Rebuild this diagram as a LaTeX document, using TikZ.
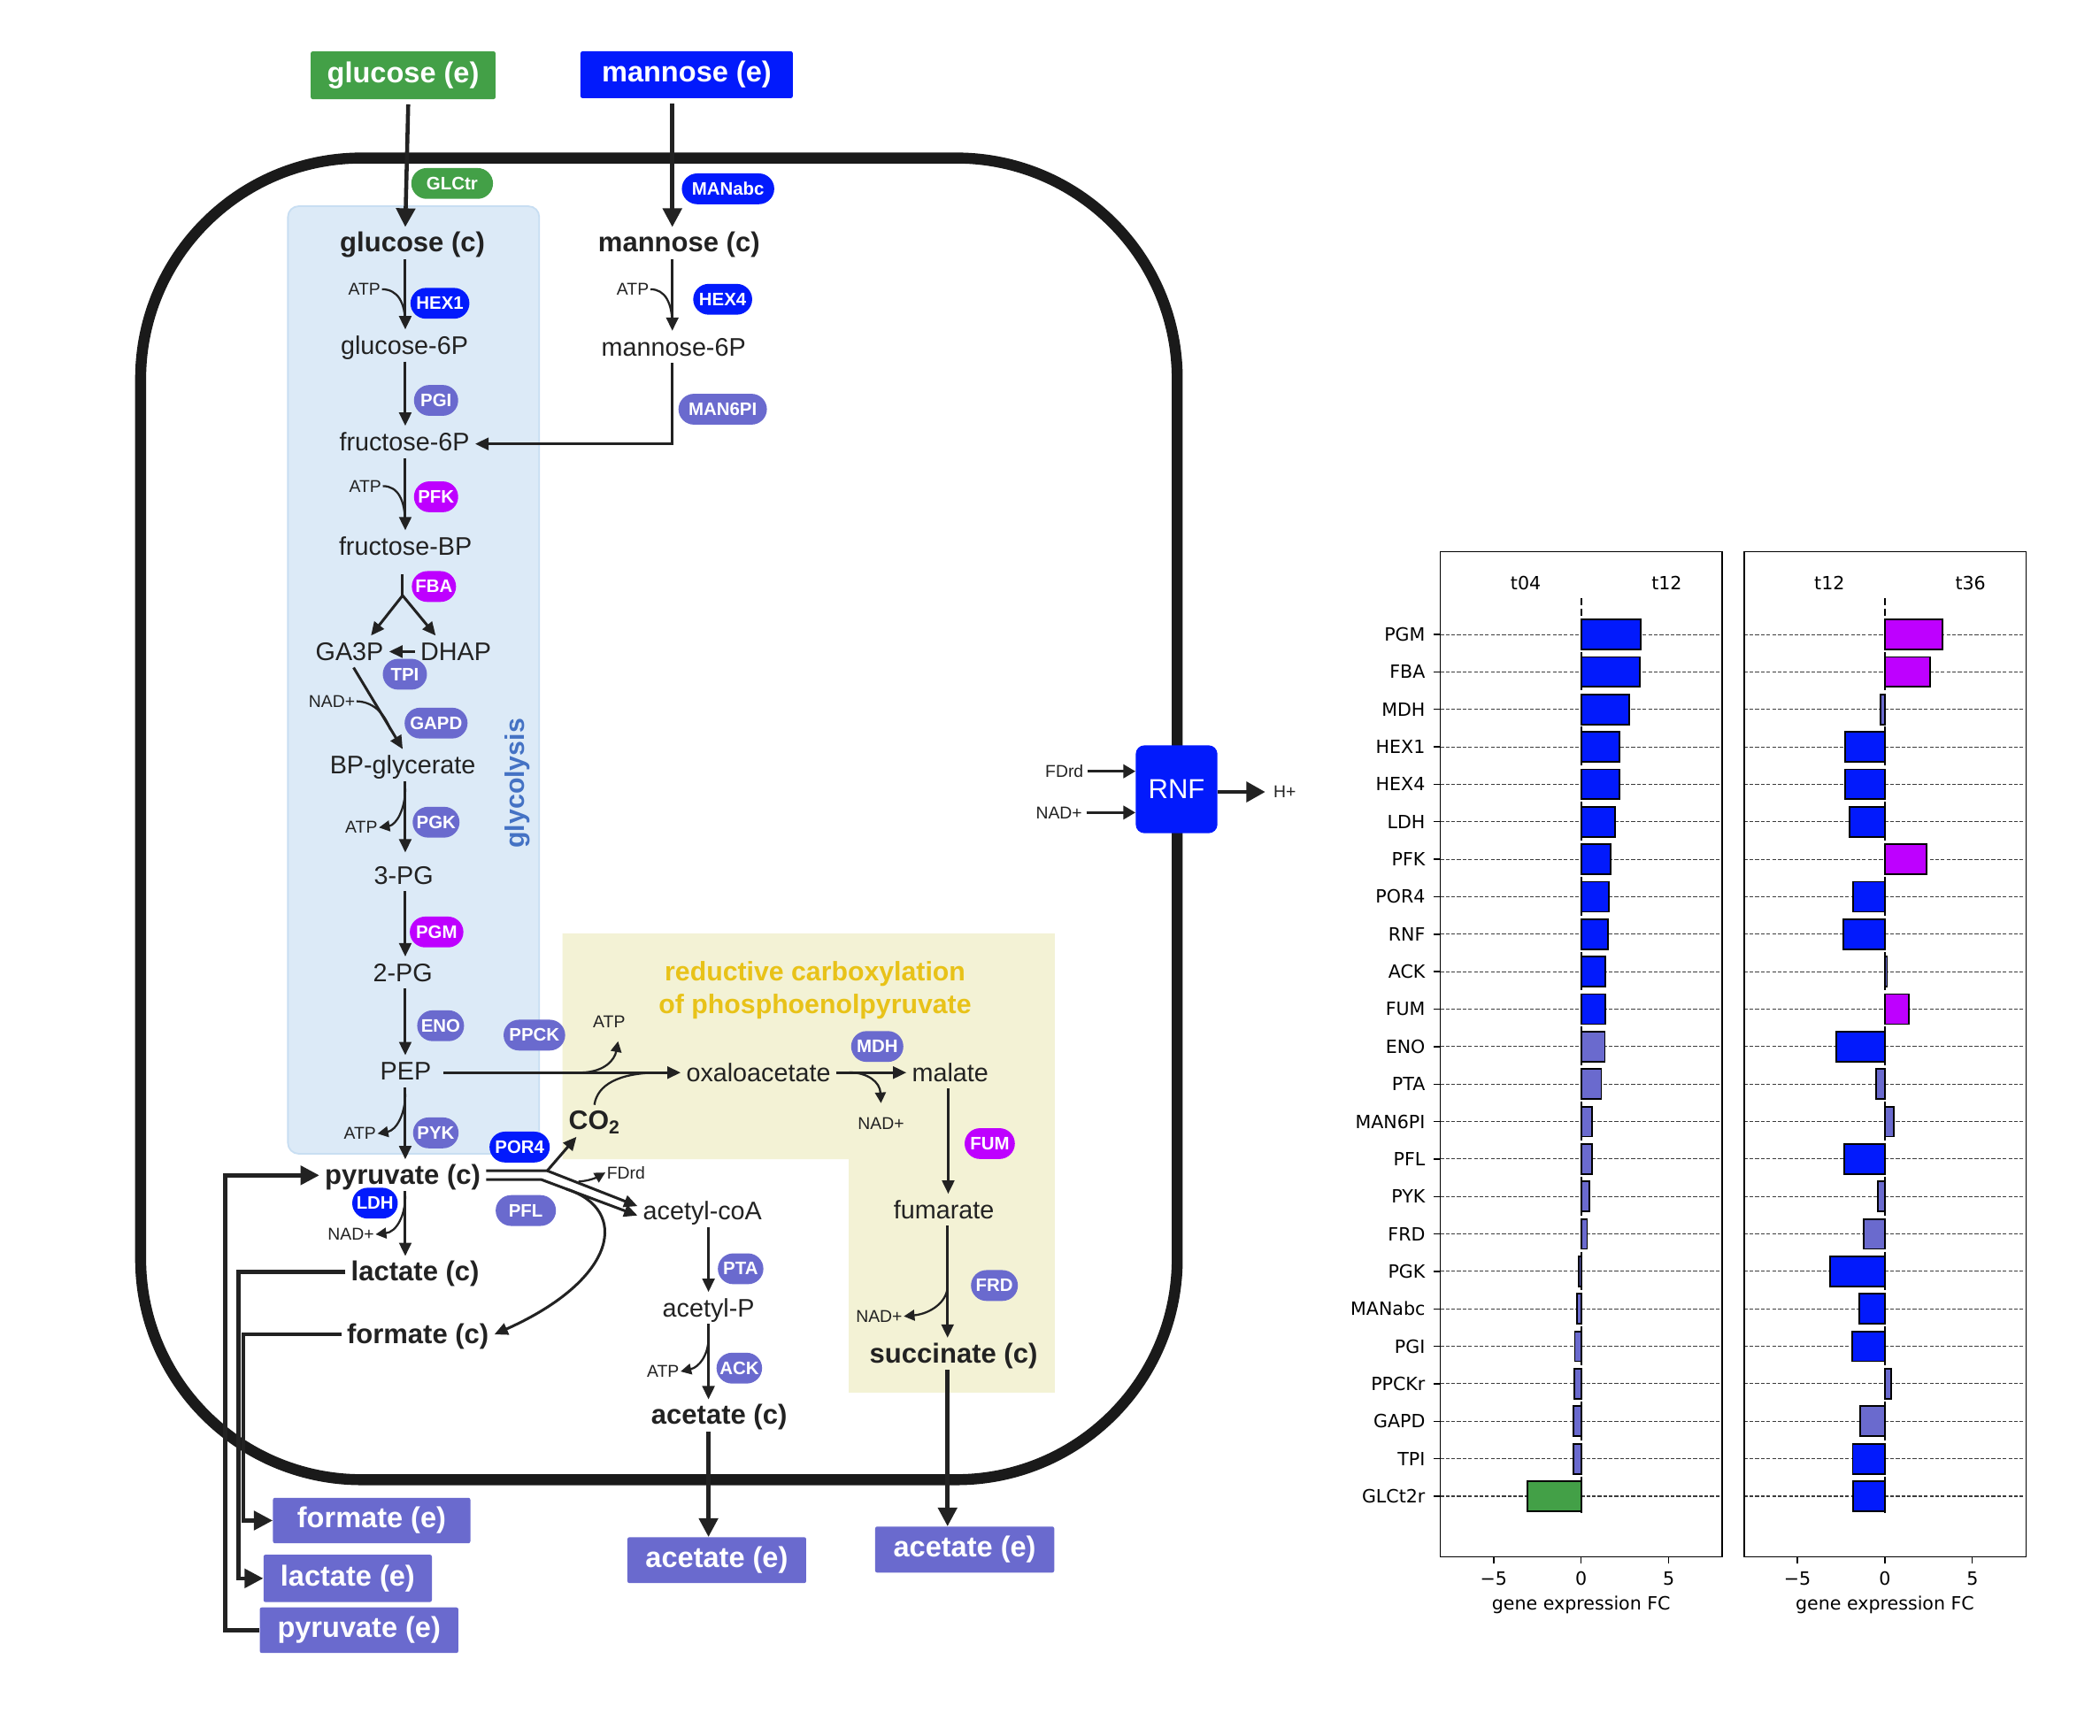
\documentclass[tikz,border=0pt]{standalone}
\usepackage{fontspec}
\setmainfont{Liberation Sans}
\newfontfamily\chartfont{DejaVu Sans}
\usetikzlibrary{arrows.meta,calc}

\definecolor{ink}{RGB}{34,34,34}
\definecolor{membr}{RGB}{26,26,26}
\definecolor{cB}{RGB}{2,26,252}
\definecolor{cS}{RGB}{106,106,206}
\definecolor{cP}{RGB}{190,0,255}
\definecolor{cG}{RGB}{67,160,71}
\definecolor{glyfill}{RGB}{220,234,247}
\definecolor{glyedge}{RGB}{200,222,242}
\definecolor{yelfill}{RGB}{243,242,213}
\definecolor{yeltext}{RGB}{232,194,24}
\definecolor{glytext}{RGB}{68,114,196}
\definecolor{gridc}{RGB}{60,60,60}

\tikzset{
 met/.style={font=\fontsize{19}{22}\selectfont, text=ink, inner xsep=4pt, inner ysep=3pt, text height=15.5pt, text depth=2pt},
 metb/.style={met, font=\fontsize{20.5}{24}\selectfont\bfseries},
 cof/.style={font=\fontsize{12.8}{15}\selectfont, text=ink, inner sep=1pt},
 pill/.style={rectangle, rounded corners=11.5pt, minimum height=23pt, inner sep=0pt, text=white, font=\fontsize{13.5}{15}\selectfont\bfseries},
 extb/.style={rectangle, rounded corners=1.5pt, inner sep=0pt, text=white, font=\fontsize{21.5}{24}\selectfont\bfseries},
 ai/.style={draw=ink, line width=2pt, -{Triangle[length=10pt,width=9pt]}},
 ae/.style={draw=ink, line width=3pt, -{Triangle[length=14pt,width=14pt]}},
 ac/.style={draw=ink, line width=1.5pt, -{Triangle[length=8pt,width=8pt]}},
 cl/.style={draw=ink, line width=1.5pt},
 chart/.style={font=\chartfont\fontsize{13.6}{16}\selectfont, text=black, inner sep=0pt},
 gridl/.style={draw=gridc, line width=0.7pt, dash pattern=on 2.8pt off 1.4pt},
 barb/.style={draw=black, line width=1.2pt},
}

\begin{document}
\begin{tikzpicture}[x=1pt,y=-1pt]
\useasboundingbox (0,0) rectangle (1568,1296);
\fill[white] (0,0) rectangle (1568,1296);

% regions
\filldraw[fill=glyfill, draw=glyedge, line width=1.2pt, rounded corners=8pt] (215,154) rectangle (402.6,861.6);
\fill[yelfill] (420,697) -- (787.6,697) -- (787.6,1040) -- (633.7,1040) -- (633.7,865.6) -- (420,865.6) -- cycle;
\node[font=\fontsize{20}{24}\selectfont\bfseries, text=yeltext] (ttla) at (608.6,727.2) {reductive carboxylation};
\node[font=\fontsize{20}{24}\selectfont\bfseries, text=yeltext] (ttlb) at (608.6,751.7) {of phosphoenolpyruvate};
\node[font=\fontsize{20}{24}\selectfont\bfseries, text=glytext, rotate=90] (gly) at (386.5,585) {glycolysis};

% membrane
\draw[draw=membr, line width=8.2pt, rounded corners=165pt] (105,118) rectangle (879,1105);

% metabolites
\node[extb, fill=cG, minimum width=138pt, minimum height=35.7pt] (glce) at (301,56.2) {glucose (e)};
\node[extb, fill=cB, minimum width=158.5pt, minimum height=35pt] (mane) at (512.7,55.8) {mannose (e)};
\node[metb] (glcc) at (308,181.5) {glucose (c)};
\node[metb] (manc) at (507,181.5) {mannose (c)};
\node[met] (g6p) at (302,258) {glucose-6P};
\node[met] (m6p) at (503,259) {mannose-6P};
\node[met] (f6p) at (302,330) {fructose-6P};
\node[met] (fbp) at (302.7,408) {fructose-BP};
\node[met] (ga3p) at (261,486.6) {GA3P};
\node[met] (dhap) at (340.3,486.6) {DHAP};
\node[met] (bpg) at (300.7,571.4) {BP-glycerate};
\node[met] (pg3) at (301.4,653.6) {3-PG};
\node[met] (pg2) at (300.7,726.3) {2-PG};
\node[met] (pep) at (302.9,800) {PEP};
\node[metb] (pyrc) at (300.7,877.7) {pyruvate (c)};
\node[metb] (lacc) at (310,950) {lactate (c)};
\node[metb] (forc) at (312,996.5) {formate (c)};
\node[met] (oaa) at (566.3,801) {oxaloacetate};
\node[met] (mal) at (709.5,801) {malate};
\node[met] (fum) at (704.8,903.5) {fumarate};
\node[metb] (succ) at (712,1011) {succinate (c)};
\node[met] (accoa) at (524.5,904.2) {acetyl-coA};
\node[met] (acp) at (529,976.8) {acetyl-P};
\node[metb] (acc) at (537,1057) {acetate (c)};
\node[metb, font=\fontsize{20}{24}\selectfont\bfseries] (co2) at (443.8,837) {CO\textsubscript{2}};

\node[extb, fill=cS, minimum width=147.4pt, minimum height=34pt] (fore) at (277.5,1135.5) {formate (e)};
\node[extb, fill=cS, minimum width=125.7pt, minimum height=35.4pt] (lace) at (259.6,1178.7) {lactate (e)};
\node[extb, fill=cS, minimum width=148.3pt, minimum height=34pt] (pyre) at (268.1,1217.4) {pyruvate (e)};
\node[extb, fill=cS, minimum width=133.5pt, minimum height=34.3pt] (ace1) at (535.2,1165.1) {acetate (e)};
\node[extb, fill=cS, minimum width=133.7pt, minimum height=34.4pt] (ace2) at (720.3,1157.2) {acetate (e)};

% RNF
\node[rectangle, rounded corners=6.5pt, fill=cB, minimum width=61pt, minimum height=65.6pt, text=white, font=\fontsize{20.5}{24}\selectfont] (rnf) at (878.5,589.4) {RNF};
\node[cof] (fdrdr) at (794.7,576) {FDrd};
\node[cof] (nadr) at (790.7,606.8) {NAD+};
\node[cof] (hplus) at (959.2,591.4) {H+};

% cofactors
\node[cof] (atp1) at (272,216) {ATP};
\node[cof] (atp2) at (472.5,216) {ATP};
\node[cof] (atp3) at (272.7,363) {ATP};
\node[cof] (nad1) at (247.8,523.7) {NAD+};
\node[cof] (atp4) at (269.8,618) {ATP};
\node[cof] (atp5) at (268.7,846.6) {ATP};
\node[cof] (nad2) at (262,921.8) {NAD+};
\node[cof] (atpp) at (454.8,763) {ATP};
\node[cof] (nad3) at (657.8,839) {NAD+};
\node[cof] (fdrd) at (467.4,875.6) {FDrd};
\node[cof] (atp6) at (495,1024.2) {ATP};
\node[cof] (nad4) at (656.4,983) {NAD+};

% enzymes
\node[pill, fill=cG, minimum width=61pt] (eglc) at (337.6,137) {GLCtr};
\node[pill, fill=cB, minimum width=69pt] (emab) at (543.6,141) {MANabc};
\node[pill, fill=cB, minimum width=44pt] (ehx1) at (328.5,226.5) {HEX1};
\node[pill, fill=cB, minimum width=44pt] (ehx4) at (539.6,223.5) {HEX4};
\node[pill, fill=cS, minimum width=33pt] (epgi) at (325.6,299) {PGI};
\node[pill, fill=cS, minimum width=66pt] (em6p) at (539.6,305.6) {MAN6PI};
\node[pill, fill=cP, minimum width=33pt] (epfk) at (325.6,371) {PFK};
\node[pill, fill=cP, minimum width=33pt] (efba) at (324,438) {FBA};
\node[pill, fill=cS, minimum width=33pt] (etpi) at (302.3,503.5) {TPI};
\node[pill, fill=cS, minimum width=47pt] (egap) at (325.6,540) {GAPD};
\node[pill, fill=cS, minimum width=35pt] (epgk) at (325.6,614) {PGK};
\node[pill, fill=cP, minimum width=40pt] (epgm) at (326,696) {PGM};
\node[pill, fill=cS, minimum width=35pt] (eeno) at (329,766) {ENO};
\node[pill, fill=cS, minimum width=34pt] (epyk) at (325.4,846) {PYK};
\node[pill, fill=cS, minimum width=46pt] (eppc) at (399,773) {PPCK};
\node[pill, fill=cB, minimum width=45pt] (epor) at (388,856.6) {POR4};
\node[pill, fill=cS, minimum width=45pt] (epfl) at (392.6,904) {PFL};
\node[pill, fill=cB, minimum width=34pt] (eldh) at (280,898.5) {LDH};
\node[pill, fill=cS, minimum width=39pt] (emdh) at (655,781.5) {MDH};
\node[pill, fill=cP, minimum width=37.5pt] (efum) at (739,854) {FUM};
\node[pill, fill=cS, minimum width=35pt] (efrd) at (742.5,960) {FRD};
\node[pill, fill=cS, minimum width=34pt] (epta) at (553,947.5) {PTA};
\node[pill, fill=cS, minimum width=34pt] (eack) at (552,1021.7) {ACK};

% columns and junctions
\coordinate (colA) at (302.6,0);
\coordinate (colB) at (502,0);
\coordinate (colM) at (708,0);
\coordinate (colS) at (707.5,0);
\coordinate (colC) at (529,0);
\coordinate (fbaj) at (300.6,444.7);
\coordinate (jgap) at (291.5,545);
\coordinate (jpgk) at (302.6,589);
\coordinate (jpyk) at (302.6,817);
\coordinate (jldh) at (302.6,893);
\coordinate (jatp) at (434,801);
\coordinate (jco2) at (490,801);
\coordinate (jmdh) at (634,800.8);
\coordinate (jfrd) at (707.5,960.4);
\coordinate (jack) at (529,999);
\coordinate (porb) at (408.6,874.3);
\coordinate (pflb) at (404.2,880.9);
\coordinate (jfd) at (432,882.3);
\coordinate (jfr) at (423,888);

% uptake
\draw[ae] ([xshift=3.8pt,yshift=-3.7pt]glce.south) -- (glcc.north -| colA);
\draw[ae] ([yshift=-4pt]mane.south -| colB) -- (manc.north -| colB);

% glycolysis
\draw[ai] (glcc.south -| colA) -- (g6p.north -| colA);
\draw[cl] (atp1.east) .. controls (297,216) and (302.6,226) .. ([yshift=4pt]g6p.north -| colA);
\draw[ai] (manc.south -| colB) -- (m6p.north -| colB);
\draw[cl] (atp2.east) .. controls (496.5,216) and (502,226) .. ([yshift=4pt]m6p.north -| colB);
\draw[ai] (m6p.south -| colB) |- ([yshift=-1.5pt]f6p.east);
\draw[ai] (g6p.south -| colA) -- (f6p.north -| colA);
\draw[ai] (f6p.south -| colA) -- (fbp.north -| colA);
\draw[cl] (atp3.east) .. controls (297,363) and (302.6,373) .. ([yshift=4pt]fbp.north -| colA);
\draw[draw=ink, line width=2pt] ([yshift=-9pt]fbp.south -| fbaj) -- (fbaj);
\draw[ai] (fbaj) -- ([xshift=16pt]ga3p.north);
\draw[ai] (fbaj) -- ([xshift=-15pt]dhap.north);
\draw[ai] (dhap.west) -- (ga3p.east);
\draw[ai] ([xshift=3pt]ga3p.south) -- (bpg.north);
\draw[cl] (nad1.east) .. controls (278,524) and (287,532) .. (jgap);
\draw[ai, shorten >=5pt] (bpg.south -| colA) -- (pg3.north -| colA);
\draw[ac] (jpgk) .. controls (302.6,604) and (296,616) .. (atp4.east);
\draw[ai] (pg3.south -| colA) -- (pg2.north -| colA);
\draw[ai] (pg2.south -| colA) -- (pep.north -| colA);
\draw[ai] (pep.south -| colA) -- (pyrc.north -| colA);
\draw[ac] (jpyk) .. controls (302.6,832) and (296,844) .. (atp5.east);
\draw[ai] (pyrc.south -| colA) -- (lacc.north -| colA);
\draw[ac] (jldh) .. controls (302.6,908) and (296,920) .. (nad2.east);

% PEP carboxylation branch
\draw[ai] ([xshift=5pt]pep.east |- oaa.west) -- (oaa.west);
\draw[ac] (jatp) .. controls (452,800.5) and (459,791) .. ([xshift=6.7pt,yshift=-9pt]atpp.south);
\draw[cl] (co2.north) .. controls (446,810) and (462,801.5) .. (jco2);
\draw[ai] (oaa.east) -- (mal.west);
\draw[ac] (jmdh) .. controls (648,801) and (657,808) .. ([yshift=9.6pt]nad3.north);
\draw[ai] (mal.south -| colM) -- (fum.north -| colM);
\draw[ai] (fum.south -| colS) -- (succ.north -| colS);
\draw[ac] (jfrd) .. controls (707.5,972) and (695,981) .. (nad4.east);
\draw[ae] (succ.south -| colS) -- (ace2.north -| colS);

% pyruvate branches
\draw[ai] ([yshift=3.4pt]pyrc.east) -- (porb) -- ([yshift=3.5pt]accoa.west);
\draw[ai] ([yshift=-3.2pt]pyrc.east) -- (pflb) -- ([yshift=-3.5pt]accoa.west);
\draw[ai] (porb) -- ([xshift=10pt]co2.south west);
\draw[ac] (jfd) .. controls (440,882) and (446,879) .. (fdrd.west);
\draw[ai] (jfr) .. controls (470,903) and (462,955) .. (forc.east);

% acetate branch
\draw[ai] (accoa.south -| colC) -- (acp.north -| colC);
\draw[ai] (acp.south -| colC) -- (acc.north -| colC);
\draw[ac] (jack) .. controls (529,1012) and (522,1021) .. (atp6.east);
\draw[ae] (acc.south -| colC) -- (ace1.north -| colC);

% export / import
\draw[ae] (lacc.west) -- ++(-80,0) |- (lace.west);
\draw[ae] (forc.west) -- ++(-73,0) |- (fore.west);
\draw[ae] (pyre.west) -- ++(-25.5,0) |- (pyrc.west);

% RNF
\draw[draw=ink, line width=2pt, -{Triangle[length=9pt,width=10pt]}] ([xshift=2pt]fdrdr.east) -- (rnf.west |- fdrdr.east);
\draw[draw=ink, line width=2pt, -{Triangle[length=9pt,width=10pt]}] ([xshift=2pt]nadr.east) -- (rnf.west |- nadr.east);
\draw[draw=ink, line width=2.6pt, -{Triangle[length=14pt,width=15pt]}, shorten >=5pt] (rnf.east |- hplus.west) -- (hplus.west);

% ---------------- bar charts ----------------
\def\xL{1180.6}
\def\xR{1407.4}
\def\ux{13.06}
\foreach \i in {0,...,23} {
  \pgfmathsetmacro\yy{473.8+27.98*\i}
  \draw[gridl] (1075.3,\yy) -- (1285.9,\yy);
  \draw[gridl] (1302.2,\yy) -- (1512.7,\yy);
  \draw[line width=0.9pt] (1070.6,\yy) -- (1075.3,\yy);
}
\draw[line width=1.4pt, dash pattern=on 5pt off 3pt] (\xL,446.7) -- (\xL,1130);
\draw[line width=1.4pt, dash pattern=on 5pt off 3pt] (\xR,446.7) -- (\xR,1130);
\foreach \n/\a/\ca/\b/\cb [count=\i from 0] in {
  PGM/3.42/cB/3.29/cP, FBA/3.37/cB/2.58/cP, MDH/2.73/cB/-0.25/cS, HEX1/2.19/cB/-2.28/cB,
  HEX4/2.19/cB/-2.28/cB, LDH/1.95/cB/-2.02/cB, PFK/1.67/cB/2.36/cP, POR4/1.60/cB/-1.80/cB,
  RNF/1.53/cB/-2.39/cB, ACK/1.38/cB/0.13/cS, FUM/1.38/cB/1.35/cP, ENO/1.35/cS/-2.78/cB,
  PTA/1.15/cS/-0.49/cS, MAN6PI/0.64/cS/0.52/cS, PFL/0.61/cS/-2.31/cB, PYK/0.46/cS/-0.40/cS,
  FRD/0.34/cS/-1.21/cS, PGK/-0.13/cS/-3.12/cB, MANabc/-0.24/cS/-1.47/cB, PGI/-0.37/cS/-1.89/cB,
  PPCKr/-0.40/cS/0.37/cS, GAPD/-0.44/cS/-1.40/cS, TPI/-0.44/cS/-1.85/cB, GLCt2r/-3.09/cG/-1.80/cB} {
  \pgfmathsetmacro\yy{473.8+27.98*\i}
  \filldraw[fill=\ca, barb] ({\xL},{\yy-11.2}) rectangle ({\xL+(\a)*\ux},{\yy+11.2});
  \filldraw[fill=\cb, barb] ({\xR},{\yy-11.2}) rectangle ({\xR+(\b)*\ux},{\yy+11.2});
  \node[chart, anchor=east] (lab\i) at (1064.3,\yy) {\n};
}
\draw[line width=1pt] (1075.3,412) rectangle (1285.9,1162.6);
\draw[line width=1pt] (1302.2,412) rectangle (1512.7,1162.6);
\foreach \c/\p in {L/1180.6, R/1407.4} {
  \foreach \v/\t [count=\k] in {-5/−5, 0/0, 5/5} {
    \draw[line width=0.9pt] ({\p+(\v)*13.06},1162.6) -- ({\p+(\v)*13.06},1167.6);
    \node[chart] (tk\c\k) at ({\p+(\v)*13.06},1179) {\t};
  }
  \node[chart] (xl\c) at (\p,1198.6) {gene expression FC};
}
\node[chart] (ta) at (1139.2,435.4) {t04};
\node[chart] (tb) at (1244.5,435.4) {t12};
\node[chart] (tc) at (1366,435.4) {t12};
\node[chart] (td) at (1471.3,435.4) {t36};
\end{tikzpicture}
\end{document}
